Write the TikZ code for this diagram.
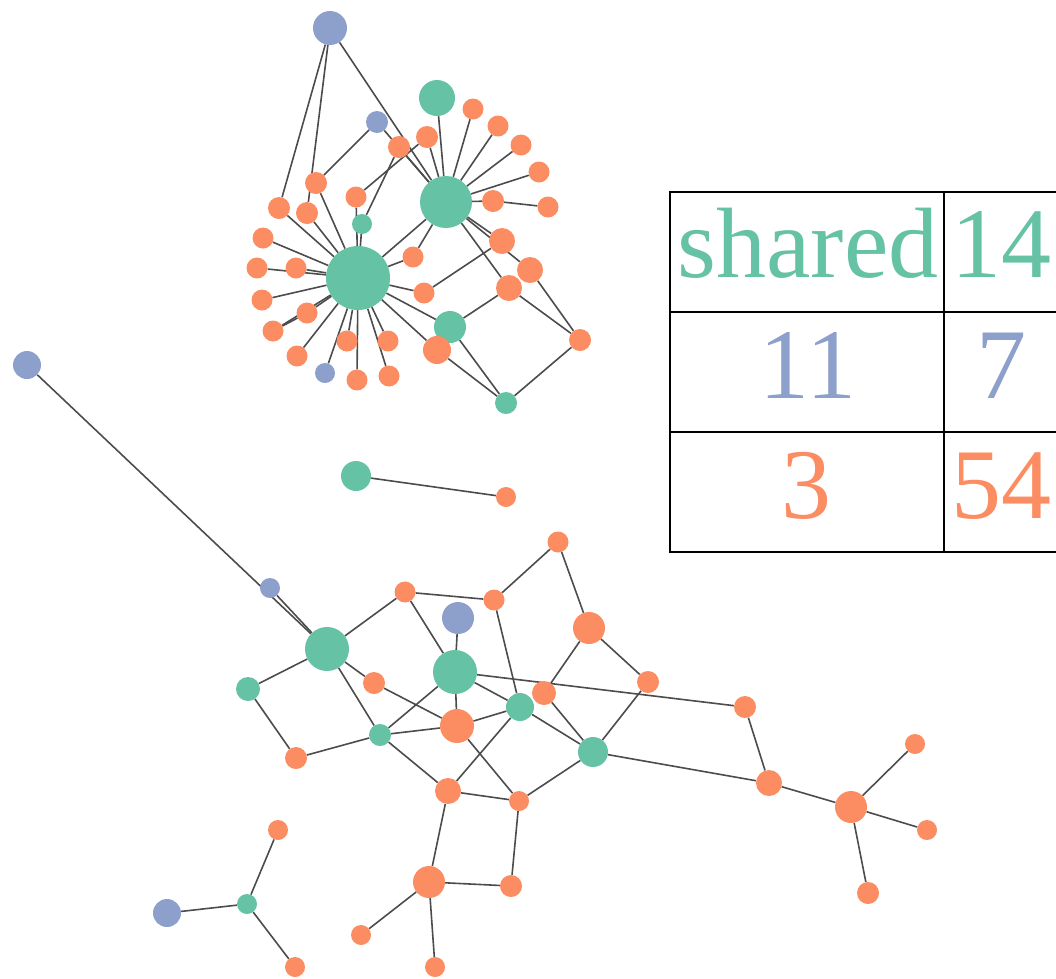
\documentclass[tikz,border=0pt]{standalone}
\usepackage{fontspec}
\setmainfont{Liberation Serif}
\usetikzlibrary{backgrounds}
\definecolor{sgreen}{HTML}{66C2A5}
\definecolor{sorange}{HTML}{FC8D62}
\definecolor{sblue}{HTML}{8DA0CB}
\tikzset{
  gnode/.style={circle,fill=sgreen,draw=none,inner sep=0pt,minimum size=#1},
  onode/.style={circle,fill=sorange,draw=none,inner sep=0pt,minimum size=#1},
  bnode/.style={circle,fill=sblue,draw=none,inner sep=0pt,minimum size=#1},
  gnode/.default=22, onode/.default=21, bnode/.default=22,
  edge/.style={draw=black!70,line width=1.6pt},
  grid/.style={draw=black,line width=1.6pt},
  celltext/.style={anchor=base,inner sep=0pt,font=\fontsize{100}{100}\selectfont}
}
\begin{document}
\begin{tikzpicture}[x=1pt,y=-1pt]
\useasboundingbox (0,0) rectangle (1056,978);
% ---------- top cluster ----------
\node[bnode=34] (tb1) at (330,28) {};
\node[gnode=36] (tg1) at (437,98) {};
\node[bnode=22] (tb2) at (377,122) {};
\node[onode=22] (to1) at (399,147) {};
\node[onode=22] (to2) at (427,137) {};
\node[onode] (to3) at (473,109) {};
\node[onode] (to4) at (498,126) {};
\node[onode] (to5) at (521,145) {};
\node[onode] (to6) at (539,172) {};
\node[onode] (to7) at (548,207) {};
\node[onode=22] (to8) at (493,201) {};
\node[gnode=52] (h2) at (446,202) {};
\node[onode=22] (to9) at (316,183) {};
\node[onode] (to10) at (356,197) {};
\node[gnode=20] (tg2) at (362,224) {};
\node[onode=22] (to11) at (279,208) {};
\node[onode=22] (to12) at (307,213) {};
\node[onode] (to13) at (263,238) {};
\node[gnode=64] (h1) at (358,278) {};
\node[onode] (to14) at (257,268) {};
\node[onode] (to15) at (296,268) {};
\node[onode] (to16) at (262,300) {};
\node[onode] (to17) at (307,313) {};
\node[onode] (to18) at (273,331) {};
\node[onode] (to19) at (297,356) {};
\node[bnode=20] (tb3) at (325,373) {};
\node[onode] (to20) at (347,341) {};
\node[onode] (to21) at (357,380) {};
\node[onode] (to22) at (388,341) {};
\node[onode] (to23) at (389,376) {};
\node[onode] (to24) at (413,257) {};
\node[onode] (to25) at (424,293) {};
\node[onode=26] (to26) at (502,241) {};
\node[onode=26] (to27) at (530,270) {};
\node[onode=26] (to28) at (509,288) {};
\node[gnode=32] (tg3) at (450,327) {};
\node[onode=28] (to29) at (437,350) {};
\node[onode=22] (to30) at (580,340) {};
\node[gnode=22] (tg4) at (506,403) {};
% ---------- middle pair ----------
\node[gnode=30] (mg) at (356,476) {};
\node[onode=20] (mo) at (506,497) {};
% ---------- bottom cluster ----------
\node[bnode=28] (bb1) at (27,365) {};
\node[bnode=20] (bb2) at (270,588) {};
\node[gnode=44] (bgA) at (327,649) {};
\node[gnode=24] (bg1) at (248,689) {};
\node[onode=22] (bo1) at (296,758) {};
\node[gnode=22] (bg2) at (380,735) {};
\node[onode=22] (bo2) at (374,683) {};
\node[onode=21] (bo3) at (405,592) {};
\node[onode=21] (bo4) at (494,600) {};
\node[onode=21] (bo5) at (558,542) {};
\node[bnode=32] (bb3) at (458,618) {};
\node[gnode=44] (bgB) at (455,672) {};
\node[onode=34] (bo6) at (457,726) {};
\node[gnode=28] (bg3) at (520,707) {};
\node[onode=24] (bo7) at (544,693) {};
\node[onode=32] (bo8) at (589,628) {};
\node[onode=22] (bo9) at (648,682) {};
\node[gnode=30] (bg4) at (593,752) {};
\node[onode=22] (bo10) at (745,707) {};
\node[onode=26] (bo11) at (769,783) {};
\node[onode=32] (bo12) at (851,807) {};
\node[onode=20] (bo13) at (915,744) {};
\node[onode=20] (bo14) at (927,830) {};
\node[onode=22] (bo15) at (868,893) {};
\node[onode=26] (bo16) at (448,791) {};
\node[onode=20] (bo17) at (519,801) {};
\node[onode=32] (bo18) at (429,882) {};
\node[onode=22] (bo19) at (511,886) {};
\node[onode=20] (bo20) at (361,935) {};
\node[onode=20] (bo21) at (435,967) {};
% ---------- bottom-left star ----------
\node[onode=20] (lo1) at (278,830) {};
\node[gnode=20] (lg) at (247,904) {};
\node[bnode=28] (lb) at (167,913) {};
\node[onode=20] (lo2) at (295,967) {};
% ---------- edges ----------
\begin{scope}[on background layer]
\foreach \a/\b in {tb1/to11,tb1/to12,tb1/h2,tb2/to9,tb2/h2,to1/h2,to1/tg2,to2/h2,to2/to10,
  tg1/h2,h2/to3,h2/to4,h2/to5,h2/to6,h2/to8,to8/to7,h2/h1,h2/to24,h2/to26,h2/to27,h2/to28,
  to26/to25,to28/tg3,to28/to30,to27/to30,to30/tg4,tg3/tg4,to29/tg4,h1/tg3,h1/to29,
  h1/to9,h1/to10,h1/tg2,h1/to11,h1/to12,h1/to13,h1/to14,h1/to15,h1/to16,h1/to17,
  to18/to17,h1/to18,h1/to19,h1/tb3,h1/to20,h1/to21,h1/to22,h1/to23,h1/to24,h1/to25,
  mg/mo,
  bb1/bgA,bb2/bgA,bgA/bo3,bgA/bg1,bgA/bo2,bgA/bg2,bg1/bo1,bo1/bg2,bg2/bgB,bg2/bo6,bg2/bo16,
  bo2/bo6,bo3/bo4,bo3/bgB,bb3/bgB,bgB/bo6,bgB/bg3,bgB/bo10,bo4/bo5,bo4/bg3,bo5/bo8,
  bo8/bo7,bo8/bo9,bo9/bg4,bo7/bg4,bg3/bg4,bg3/bo6,bg3/bo16,bo6/bo17,bg4/bo17,bg4/bo11,
  bo10/bo11,bo11/bo12,bo12/bo13,bo12/bo14,bo12/bo15,bo16/bo17,bo16/bo18,bo17/bo19,
  bo18/bo19,bo18/bo20,bo18/bo21,lg/lo1,lg/lb,lg/lo2}
  \draw[edge] (\a) -- (\b);
\end{scope}
% ---------- table ----------
\coordinate (t00) at (670,192);
\coordinate (t01) at (670,552);
\coordinate (tr0) at (1058,192);
\coordinate (tr3) at (1058,552);
\coordinate (tm0) at (944,192);
\coordinate (tm3) at (944,552);
\coordinate (ta1) at (670,312);
\coordinate (tb1r) at (1058,312);
\coordinate (ta2) at (670,432);
\coordinate (tb2r) at (1058,432);
\draw[grid] (tr0) -- (t00) -- (t01) -- (tr3);
\draw[grid] (tm0) -- (tm3);
\draw[grid] (ta1) -- (tb1r);
\draw[grid] (ta2) -- (tb2r);
\node[celltext,text=sgreen] (c11) at (808,277) {shared};
\node[celltext,text=sgreen] (c12) at (1001,277) {14};
\node[celltext,text=sblue] (c21) at (808,398) {11};
\node[celltext,text=sblue] (c22) at (1001,398) {7};
\node[celltext,text=sorange] (c31) at (806,518) {3};
\node[celltext,text=sorange] (c32) at (1001,518) {54};
\end{tikzpicture}
\end{document}
